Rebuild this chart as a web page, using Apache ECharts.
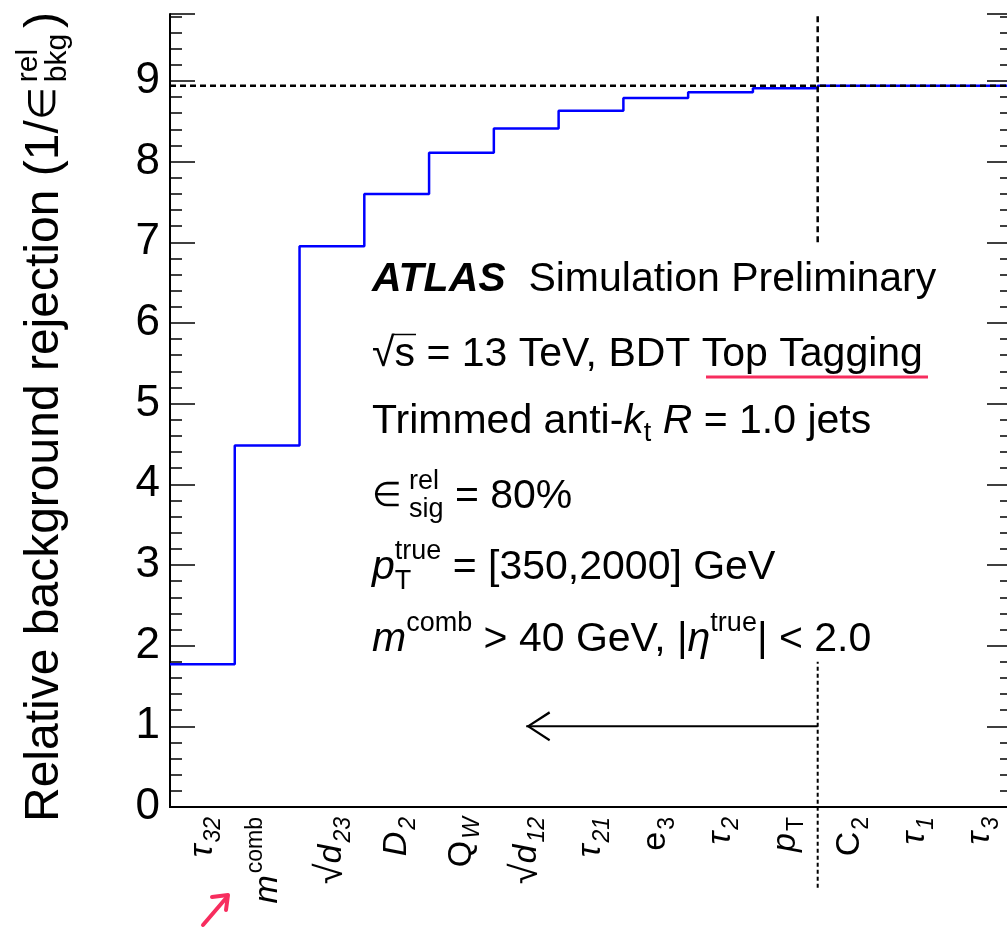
<!DOCTYPE html>
<html>
<head>
<meta charset="UTF-8">
<title>BDT top tagging - background rejection</title>
<script src="https://cdn.jsdelivr.net/npm/echarts@6/dist/echarts.min.js"></script>
<style>
  html, body { margin: 0; padding: 0; background: #fff; overflow: hidden; }
</style>
</head>
<body>
<!-- a bit wider than the window: the right frame of the plot sits just off the picture -->
<div id="main" style="width:1016px;height:929px"></div>
<script>
// variables added one by one to the BDT (LaTeX-ish: _ = subscript, ^ = superscript)
var variables = ['τ_32', 'm^comb', '√d_23', 'D_2', 'Q_W', '√d_12', 'τ_21', 'e_3', 'τ_2', 'p_T', 'C_2', 'τ_1', 'τ_3'];
// relative background rejection after each step
var rejection = [1.77, 4.48, 6.95, 7.60, 8.11, 8.41, 8.63, 8.79, 8.86, 8.91, 8.94, 8.94, 8.94];
var yRange = [0, 9.83];
var plateau = 8.94;          // horizontal dashed line
var cutEdge = 10;            // bin edge of the vertical dashed line (between p_T and C_2)
var cutUpper = [7.0, 9.83];  // upper dashed piece (y from, to)
var cutLower = [-1.0, 1.8];  // lower dashed piece, runs below the axis
var arrowFrom = [10, 1];
var arrowTo = [5.5, 1];

var FONT = '"Liberation Sans", Arial, Helvetica, sans-serif';
var PINK = '#f72d5e';

var ctx = document.createElement('canvas').getContext('2d');
function tw(p) {
  ctx.font = (p.fontStyle || '') + ' ' + (p.fontWeight || '') + ' ' + p.size + 'px ' + FONT;
  return ctx.measureText(p.t).width;
}
// lay out text pieces left to right; stack:true shares x with the previous piece
function run(parts) {
  var x = 0, lastX = 0, lastW = 0, out = [];
  parts.forEach(function (p) {
    var w = tw(p), px;
    if (p.stack) {
      px = lastX;
      lastW = Math.max(lastW, w);
      x = lastX + lastW;
    } else {
      px = x + (p.gap || 0);
      lastX = px; lastW = w; x = px + w;
    }
    out.push({
      type: 'text', x: px, y: p.dy || 0,
      style: {
        text: p.t, fontSize: p.size, fontFamily: FONT, fontStyle: p.fontStyle || 'normal',
        fontWeight: p.fontWeight || 'normal', fill: '#000', align: 'left', verticalAlign: 'middle'
      }
    });
    if (p.over) {
      // bar of a square root
      var oy = -0.5 * p.size;
      out.push({ type: 'line', shape: { x1: px - 1, y1: oy, x2: px + w + 1, y2: oy }, style: { stroke: '#000', lineWidth: 1.5 } });
    }
  });
  return out;
}

var ital = { fontStyle: 'italic' };
function P(t, size, extra) { var o = { t: t, size: size }; for (var k in extra) o[k] = extra[k]; return o; }

var TS = 41, SS = 27;
var textLines = [
  [P('ATLAS', TS, { fontStyle: 'italic', fontWeight: 'bold' }), P('  Simulation Preliminary', TS)],
  [P('√', TS), P('s', TS, { over: true }), P(' = 13 TeV, BDT Top Tagging', TS)],
  [P('Trimmed anti-', TS), P('k', TS, ital), P('t', SS, { dy: 12 }), P(' ', TS), P('R', TS, ital), P(' = 1.0 jets', TS)],
  [P('∈', 34), P('rel', SS, { dy: -15, gap: 7 }), P('sig', SS, { dy: 13, stack: true }), P(' = 80%', TS)],
  [P('p', TS, ital), P('true', SS, { dy: -16 }), P('T', SS, { dy: 14, stack: true }), P(' = [350,2000] GeV', TS)],
  [P('m', TS, ital), P('comb', SS, { dy: -16 }), P(' > 40 GeV, |', TS), P('η', TS, ital), P('true', SS, { dy: -16 }), P('| < 2.0', TS)]
];
var lineY = [280, 355, 422, 497, 568, 640];

var yTitle = run([
  P('Relative background rejection (1/', 48),
  P('∈', 38),
  P('rel', 30, { dy: -16, gap: 5 }), P('bkg', 30, { dy: 13, stack: true }),
  P(')', 48, { gap: 6 })
]);

function fmtVar(name) {
  var m = name.match(/^(√?)(.)([_^])(.+)$/);
  var s = '';
  if (m[1]) s += '{r|√}';
  var italicBase = /[τdDpmη]/.test(m[2]);
  s += '{' + (italicBase ? 'bi' : 'b') + '|' + m[2] + '}';
  var idxItalic = (italicBase && /^[0-9]+$/.test(m[4])) || m[4] === 'W';
  s += '{' + (m[3] === '_' ? 'sub' : 'sup') + (idxItalic ? 'I' : '') + '|' + m[4] + '}';
  return s;
}

var stepData = rejection.map(function (v, i) { return [i, v]; });
stepData.push([rejection.length, rejection[rejection.length - 1]]);

var chevron = 'path://M0,20 L10,0 L20,20 L18.6,21 L10,3.4 L1.4,21 Z';

var tickStyle = { color: '#000', width: 1.5 };
var axisLine = { show: true, lineStyle: { color: '#000', width: 2 } };

var myChart = echarts.init(document.getElementById('main'));
var option = {
  animation: false,
  backgroundColor: '#fff',
  grid: { left: 170, top: 14, width: 842, height: 793 },
  xAxis: [
    {
      type: 'category', data: variables, position: 'bottom',
      axisLine: axisLine,
      axisTick: { inside: true, alignWithLabel: true, length: 24, lineStyle: tickStyle },
      axisLabel: {
        interval: 0, rotate: 90, margin: 10, color: '#000', fontFamily: FONT,
        formatter: fmtVar,
        rich: {
          b: { fontSize: 34, lineHeight: 46, fontFamily: FONT, color: '#000' },
          bi: { fontSize: 34, lineHeight: 46, fontStyle: 'italic', fontFamily: FONT, color: '#000' },
          r: { fontSize: 38, lineHeight: 46, fontFamily: FONT, color: '#000' },
          sub: { fontSize: 23, lineHeight: 23, padding: [23, 0, 0, 2], fontFamily: FONT, color: '#000' },
          subI: { fontSize: 23, lineHeight: 23, padding: [23, 0, 0, 2], fontStyle: 'italic', fontFamily: FONT, color: '#000' },
          sup: { fontSize: 23, lineHeight: 23, padding: [0, 0, 23, 2], fontFamily: FONT, color: '#000' },
          supI: { fontSize: 23, lineHeight: 23, padding: [0, 0, 23, 2], fontStyle: 'italic', fontFamily: FONT, color: '#000' }
        }
      },
      splitLine: { show: false }
    },
    {
      type: 'category', data: variables, position: 'top',
      axisLine: axisLine,
      axisTick: { inside: true, alignWithLabel: true, length: 24, lineStyle: tickStyle },
      axisLabel: { show: false },
      splitLine: { show: false }
    },
    { type: 'value', min: 0, max: variables.length, show: false, splitLine: { show: false } }
  ],
  yAxis: [
    {
      type: 'value', min: yRange[0], max: yRange[1], interval: 1, position: 'left',
      axisLine: axisLine,
      axisTick: { inside: true, length: 25, lineStyle: tickStyle },
      minorTick: { show: true, splitNumber: 5, length: 12, lineStyle: tickStyle },
      axisLabel: {
        fontSize: 44, fontFamily: FONT, color: '#000', margin: 10, showMaxLabel: false,
        formatter: function (v) { return Number.isInteger(v) ? String(v) : ''; }
      },
      splitLine: { show: false }
    },
    {
      type: 'value', min: yRange[0], max: yRange[1], interval: 1, position: 'right',
      axisLine: axisLine,
      axisTick: { inside: true, length: 25, lineStyle: tickStyle },
      minorTick: { show: true, splitNumber: 5, length: 12, lineStyle: tickStyle },
      axisLabel: { show: false },
      splitLine: { show: false }
    }
  ],
  series: [
    {
      type: 'line', xAxisIndex: 2, yAxisIndex: 0, step: 'end', data: stepData,
      symbol: 'none', lineStyle: { color: '#0000ff', width: 2.5 }, z: 3
    },
    {
      type: 'line', xAxisIndex: 2, yAxisIndex: 0, data: [[0, plateau], [variables.length, plateau]],
      symbol: 'none', lineStyle: { color: '#000', width: 2.5, type: [6, 4] }, z: 4
    },
    {
      type: 'line', xAxisIndex: 2, yAxisIndex: 0, data: [[cutEdge, cutUpper[0]], [cutEdge, cutUpper[1]]],
      symbol: 'none', lineStyle: { color: '#000', width: 2.5, type: [6, 4] }, z: 4
    },
    {
      type: 'line', xAxisIndex: 2, yAxisIndex: 0, clip: false, data: [[cutEdge, cutLower[0]], [cutEdge, cutLower[1]]],
      symbol: 'none', lineStyle: { color: '#000', width: 2, type: [4, 3] }, z: 4
    },
    {
      type: 'line', xAxisIndex: 2, yAxisIndex: 0, showSymbol: true,
      data: [
        { value: arrowFrom, symbol: 'none' },
        { value: arrowTo, symbol: chevron, symbolSize: [30, 24], symbolRotate: 90, symbolOffset: [12, 0] }
      ],
      itemStyle: { color: '#000', borderWidth: 0 },
      lineStyle: { color: '#000', width: 2 }, z: 4
    }
  ],
  graphic: [
    { type: 'group', x: 45, y: 822, rotation: Math.PI / 2, children: yTitle }
  ].concat(textLines.map(function (parts, i) {
    return { type: 'group', x: 372, y: lineY[i], children: run(parts) };
  })).concat([
    { type: 'line', shape: { x1: 706, y1: 377, x2: 928, y2: 377 }, style: { stroke: PINK, lineWidth: 3 } },
    { type: 'line', shape: { x1: 203, y1: 925, x2: 227, y2: 897 }, style: { stroke: PINK, lineWidth: 4, lineCap: 'round' } },
    { type: 'polyline', shape: { points: [[212, 897], [228, 895], [226, 910]] }, style: { stroke: PINK, fill: null, lineWidth: 4, lineCap: 'round', lineJoin: 'round' } }
  ])
};
myChart.setOption(option);
</script>
</body>
</html>
